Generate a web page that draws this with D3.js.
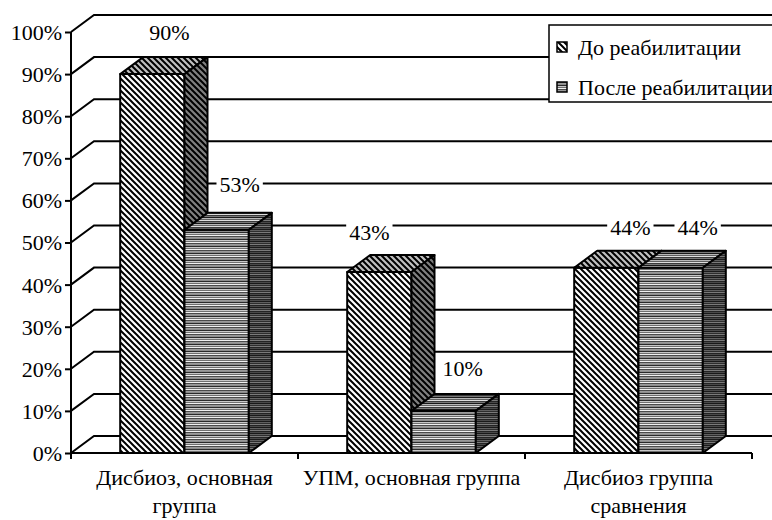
<!DOCTYPE html>
<html>
<head>
<meta charset="utf-8">
<script src="https://cdn.jsdelivr.net/npm/d3@7"></script>
</head>
<body style="margin:0">
<svg id="chart" width="772" height="520"></svg>
<script>
// data
const categories = ["Дисбиоз, основная группа", "УПМ, основная группа", "Дисбиоз группа сравнения"];
const seriesNames = ["До реабилитации", "После реабилитации"];
const beforeValues = [0.90, 0.43, 0.44];
const afterValues = [0.53, 0.10, 0.44];
const tickValues = [0, 0.1, 0.2, 0.3, 0.4, 0.5, 0.6, 0.7, 0.8, 0.9, 1.0];

// small label nudges (layout only), one per bar in drawing order
const labelNudge = [[-6, 0], [0, -4], [-33, 2], [-4, -1], [1, 2], [4, 2]];

var svg = d3.select("#chart");
var W = 772, H = 520;
var plotLeft = 71, plotRight = 752, plotTop = 32, plotBottom = 453;
var dx = 23, dy = -17;   // 3d depth offset
var fs = 22;
var serif = "'Liberation Serif'";

var x = d3.scaleBand().domain(categories).range([plotLeft, plotRight]).padding(0);
var xs = d3.scaleBand().domain(seriesNames).range([0, x.bandwidth()]).paddingInner(0).paddingOuter(0.765);
var y = d3.scaleLinear().domain([0, 1]).range([plotBottom, plotTop]);
var fmt = d3.format(".0%");

// patterns
var defs = svg.append("defs");
function diagPattern(id, bg) {
  var p = defs.append("pattern").attr("id", id).attr("patternUnits", "userSpaceOnUse").attr("width", 6).attr("height", 6);
  p.append("rect").attr("width", 6).attr("height", 6).attr("fill", bg);
  p.append("path").attr("d", "M-1,-1 L7,7 M-1,5 L1,7 M5,-1 L7,1").attr("stroke", "#000").attr("stroke-width", 2);
}
function horizPattern(id, rows) {
  var p = defs.append("pattern").attr("id", id).attr("patternUnits", "userSpaceOnUse").attr("width", 8).attr("height", rows.length);
  rows.forEach(function(c, i) {
    p.append("rect").attr("x", 0).attr("y", i).attr("width", 8).attr("height", 1).attr("fill", c);
  });
}
diagPattern("d-front", "#ffffff");
diagPattern("d-top", "#c0c0c0");
diagPattern("d-side", "#808080");
horizPattern("h-front", ["#8c8c8c", "#2a2a2a", "#c8c8c8", "#707070", "#f0f0f0", "#4a4a4a", "#9a9a9a"]);
horizPattern("h-top", ["#7a7a7a", "#1a1a1a", "#b8b8b8", "#606060", "#dddddd", "#3a3a3a"]);
horizPattern("h-side", ["#4a4a4a", "#1a1a1a", "#606060", "#2e2e2e", "#7a7a7a", "#242424"]);
var fills = {
  "До реабилитации": ["url(#d-front)", "url(#d-top)", "url(#d-side)"],
  "После реабилитации": ["url(#h-front)", "url(#h-top)", "url(#h-side)"]
};

// back wall gridlines + floor
svg.append("g").selectAll("path").data(tickValues).enter().append("path")
  .attr("d", function(d) { var yy = y(d); return "M" + plotLeft + "," + yy + " L" + (plotLeft + dx) + "," + (yy + dy) + " L" + (W + 10) + "," + (yy + dy); })
  .attr("fill", "none").attr("stroke", "#000").attr("stroke-width", 2);

// y axis
var yAxis = svg.append("g").attr("transform", "translate(" + plotLeft + ",0)")
  .call(d3.axisLeft(y).tickValues(tickValues).tickFormat(fmt).tickSize(6).tickPadding(3));
yAxis.select(".domain").attr("d", "M0," + plotTop + "V" + plotBottom).attr("stroke", "#000").attr("stroke-width", 2);
yAxis.selectAll(".tick line").attr("stroke", "#000").attr("stroke-width", 2);
yAxis.selectAll(".tick text").attr("dy", "0.34em").attr("fill", "#000")
  .style("font-family", serif).style("font-size", fs + "px");

// x axis (front floor edge) with ticks at category boundaries
var bounds = categories.map(function(c) { return x(c); }).concat([x.range()[1]]);
svg.append("path").attr("d", "M" + plotLeft + "," + plotBottom + "H" + plotRight).attr("stroke", "#000").attr("stroke-width", 2);
svg.append("g").selectAll("line").data(bounds).enter().append("line")
  .attr("x1", function(d) { return d; }).attr("x2", function(d) { return d; })
  .attr("y1", plotBottom).attr("y2", plotBottom + 6).attr("stroke", "#000").attr("stroke-width", 2);

// bars
var bars = [];
categories.forEach(function(c, i) {
  bars.push({cat: c, s: seriesNames[0], v: beforeValues[i]});
  bars.push({cat: c, s: seriesNames[1], v: afterValues[i]});
});
var gb = svg.append("g");
bars.forEach(function(d) {
  var x0 = x(d.cat) + xs(d.s), x1 = x0 + xs.bandwidth();
  var yt = y(d.v), y0 = y(0);
  var f = fills[d.s];
  var g = gb.append("g").attr("stroke", "#000").attr("stroke-width", 2).attr("stroke-linejoin", "round");
  g.append("rect").attr("x", x0).attr("y", yt).attr("width", x1 - x0).attr("height", y0 - yt).attr("fill", f[0]);
  g.append("path").attr("d", "M" + x0 + "," + yt + "L" + (x0 + dx) + "," + (yt + dy) + "L" + (x1 + dx) + "," + (yt + dy) + "L" + x1 + "," + yt + "Z").attr("fill", f[1]);
  g.append("path").attr("d", "M" + x1 + "," + yt + "L" + (x1 + dx) + "," + (yt + dy) + "L" + (x1 + dx) + "," + (y0 + dy) + "L" + x1 + "," + y0 + "Z").attr("fill", f[2]);
});

// value labels with white backing
var gl = svg.append("g");
bars.forEach(function(d, i) {
  var cx = x(d.cat) + xs(d.s) + xs.bandwidth() / 2 + dx + labelNudge[i][0];
  var cy = y(d.v) + dy - 25 + labelNudge[i][1];
  var t = gl.append("text").attr("x", cx).attr("y", cy).attr("dy", "0.35em")
    .attr("text-anchor", "middle").attr("font-size", fs).style("font-family", serif).text(fmt(d.v));
  var bb = t.node().getBBox();
  gl.insert("rect", "text").attr("x", bb.x - 3).attr("y", cy - 9).attr("width", bb.width + 6).attr("height", 18).attr("fill", "#fff");
});

// category labels, wrapped
function wrap(textSel, width) {
  textSel.each(function() {
    var text = d3.select(this), words = text.text().split(/\s+/), line = [], lines = [];
    text.text(null);
    var tspan = text.append("tspan");
    words.forEach(function(w) {
      line.push(w);
      tspan.text(line.join(" "));
      if (tspan.node().getComputedTextLength() > width && line.length > 1) {
        line.pop();
        lines.push(line.join(" "));
        line = [w];
      }
    });
    lines.push(line.join(" "));
    text.text(null);
    lines.forEach(function(l, k) {
      text.append("tspan").attr("x", text.attr("x")).attr("dy", k === 0 ? 0 : 28).text(l);
    });
  });
}
svg.append("g").selectAll("text").data(categories).enter().append("text")
  .attr("x", function(d) { return x(d) + x.bandwidth() / 2; })
  .attr("y", 485).attr("text-anchor", "middle")
  .attr("font-size", fs).style("font-family", serif)
  .text(function(d) { return d; })
  .call(wrap, x.bandwidth() + 4);

// legend
var lg = svg.append("g");
lg.append("rect").attr("x", 549).attr("y", 25).attr("width", 260).attr("height", 77)
  .attr("fill", "#fff").attr("stroke", "#000").attr("stroke-width", 1.5);
seriesNames.forEach(function(s, i) {
  var cy = 47 + i * 40;
  lg.append("rect").attr("x", 557).attr("y", cy - 5).attr("width", 10).attr("height", 10)
    .attr("fill", fills[s][0]).attr("stroke", "#000").attr("stroke-width", 1.5);
  lg.append("text").attr("x", 578).attr("y", cy).attr("dy", "0.35em")
    .attr("font-size", fs).style("font-family", serif).text(s);
});
</script>
</body>
</html>
